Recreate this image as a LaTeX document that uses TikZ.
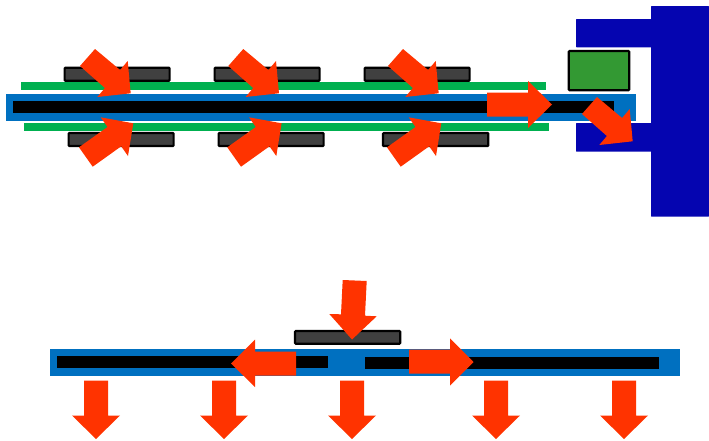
\documentclass[tikz,border=0pt]{standalone}
\definecolor{arrowred}{HTML}{FF3300}
\definecolor{stripblue}{HTML}{0070C0}
\definecolor{stripgreen}{HTML}{00B050}
\definecolor{navyblock}{HTML}{0505B0}
\definecolor{padgrey}{HTML}{404040}
\definecolor{boxgreen}{HTML}{339933}
\tikzset{
  x=1pt,y=-1pt,
  redarrow/.style={fill=arrowred,draw=none},
  base/.style={fill=stripblue,draw=none},
  core/.style={fill=black,draw=none},
  film/.style={fill=stripgreen,draw=none},
  pad/.style={fill=padgrey,draw=black,line width=2.2pt,rounded corners=0.8pt},
  block/.style={fill=navyblock,draw=none,rounded corners=0.6pt},
  greenbox/.style={fill=boxgreen,draw=black,line width=2.2pt,rounded corners=0.8pt}
}
\newcommand{\diagtop}[2]{\fill[redarrow,shift={(#1,#2)}] (80,66) -- (95,49) -- (120.1,70) -- (127.7,61) -- (130.7,93.3) -- (97.3,97) -- (104.9,88) -- cycle;}
\newcommand{\diagbot}[1]{\fill[redarrow,shift={(#1,0)}] (79,147.3) -- (107.5,127) -- (100.7,117.3) -- (133.3,123.3) -- (128,156) -- (121.2,146.3) -- (92.7,166.7) -- cycle;}
\newcommand{\dropArrow}[1]{\fill[redarrow,shift={(#1,0)}] (-12,380.5) -- (12,380.5) -- (12,415.5) -- (24,415.5) -- (0,439) -- (-24,415.5) -- (-12,415.5) -- cycle;}
\begin{document}
\begin{tikzpicture}
\useasboundingbox (0,0) rectangle (709,440);
% navy holder
\fill[block] (651,6) rectangle (709,216.7);
\fill[block] (576,19) rectangle (655,47.3);
\fill[block] (576,123) rectangle (655,151.7);
% green box
\draw[greenbox] (568.8,51) rectangle (629.2,90.2);
% top assembly
\draw[pad] (64.6,67.8) rectangle (169.6,80.7);
\draw[pad] (214.6,67.8) rectangle (319.6,80.7);
\draw[pad] (364.6,67.8) rectangle (469.6,80.7);
\fill[film] (21,82) rectangle (546,90);
\fill[base] (6,94) rectangle (636,120.7);
\fill[core] (12.7,100.7) rectangle (613.7,112.7);
\fill[film] (24,123.3) rectangle (549,131);
\draw[pad] (68.6,133) rectangle (173.6,146);
\draw[pad] (218.6,133) rectangle (323.6,146);
\draw[pad] (383,133) rectangle (488.3,146);
% top arrows
\diagtop{0}{0} \diagtop{148.3}{0} \diagtop{308}{0}
\diagbot{0} \diagbot{148.3} \diagbot{308}
\fill[redarrow] (487,92.5) -- (528,92.5) -- (528,81) -- (552,104.5) -- (528,128) -- (528,116.5) -- (487,116.5) -- cycle;
\diagtop{502}{48}
% bottom assembly
\fill[base] (50,349) rectangle (680,376);
\fill[core] (57.2,355.5) rectangle (328,367.5);
\fill[core] (365,357) rectangle (659,369);
\draw[pad] (295,331) rectangle (400.2,343.7);
% bottom arrows
\fill[redarrow] (342.7,280) -- (366.7,281) -- (365,315.7) -- (376.7,316.3) -- (352,339.5) -- (329.3,314) -- (341,314.3) -- cycle;
\fill[redarrow] (296,351.7) -- (255,351.7) -- (255,339.7) -- (231,363.5) -- (255,387) -- (255,375.5) -- (296,375.5) -- cycle;
\fill[redarrow] (409,349.7) -- (450,349.7) -- (450,338.3) -- (473.5,362) -- (450,385.5) -- (450,373.7) -- (409,373.7) -- cycle;
\dropArrow{96} \dropArrow{224} \dropArrow{352} \dropArrow{496} \dropArrow{624}
\end{tikzpicture}
\end{document}
